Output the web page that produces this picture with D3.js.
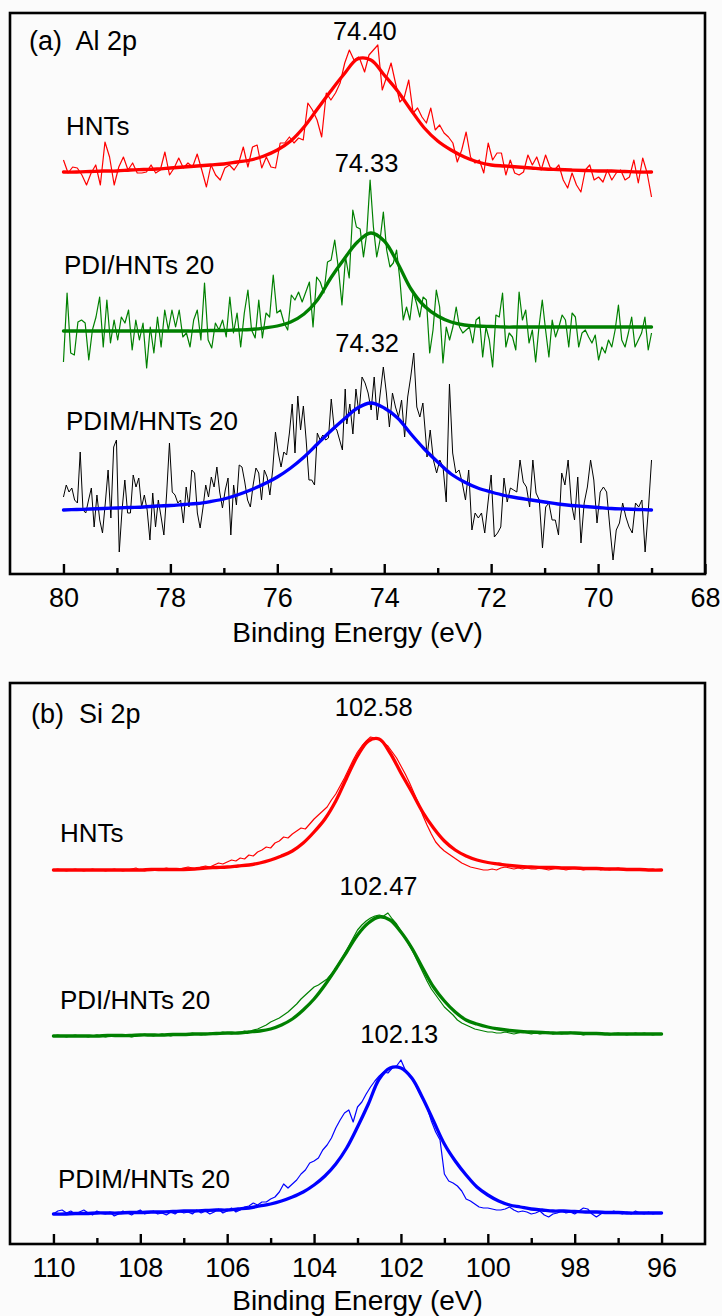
<!DOCTYPE html>
<html>
<head>
<meta charset="utf-8">
<script src="https://cdn.jsdelivr.net/npm/d3@7/dist/d3.min.js"></script>
<style>
  html, body { margin: 0; padding: 0; background: #fbfbfb; }
  svg { display: block; }
  text { font-family: "Liberation Sans", Arial, sans-serif; fill: #000; white-space: pre; }
</style>
</head>
<body>
<svg id="chart" width="722" height="1316"></svg>
<script>
// ---------------- DATA ----------------
// Panel (a) Al 2p
const aTitle = "(a)  Al 2p";
const aSeriesNames = ["HNTs", "PDI/HNTs 20", "PDIM/HNTs 20"];
const aPeakLabels = ["74.40", "74.33", "74.32"];
const aPeakEnergies = [74.40, 74.33, 74.32];
const aTicksMajor = [80, 78, 76, 74, 72, 70, 68];
const aTicksMinor = [79, 77, 75, 73, 71, 69];
const aDomain = [81, 68];

// raw spectra (intensity, a.u., stacked), segments given with their energy spans
const aRawHNTsLeft = [414,401,407,406,399,389,401,409,389,432,417,389,407,417,404,411,401,401,402,409,
  401,404,422,399,406,416,406,411,407,420,404,387,409,399,394,406,409,404,411,427,
  407,427,429,406,417,407,406,431,431,437,431,436,434,471,464,454,437,481,474,481,
  491,511,524,514,517]; // 80.0 -> 74.48 eV
const aRawHNTsRight = [514,502,519,524,529,484,497,511,491,472,477,494,461,466,457,451,466,444,449,441,
  437,431,412,424,442,417,411,414,401,431,414,421,421,399,414,401,399,402,419,409,
  417,404,419,407,404,409,394,386,401,389,382,404,409,394,397,392,404,394,401,404,
  394,397,414,391,416,401,377]; // 74.45 -> 69.0 eV
const aRawPDILeft = [212,281,221,219,252,254,251,214,244,257,277,227,274,231,254,234,257,251,264,224,
  254,234,251,206,247,221,257,227,264,244,264,247,264,237,241,227,254,264,234,291,
  234,226,251,244,254,237,277,241,261,227,261,284,244,236,274,236,261,257,299,261,
  264,251,244,279,274,282,272,282,292,247,297,292,281,312,314,334,306,269,317,296,
  364,347]; // 80.0 -> 74.52 eV
const aRawPDIRight = [345,317,341,394,347,317,334,362,324,307,311,324,294,254,267,254,282,271,257,277,
  274,221,244,284,267,211,247,234,247,267,247,241,244,247,231,254,257,217,247,234,
  207,259,257,281,227,241,237,224,282,254,264,231,244,212,247,274,244,217,254,237,
  247,259,254,227,261,257,227,241,244,237,231,239,214,227,221,234,227,244,269,234,
  227,241,257,227,234,241,257,224,241]; // 74.45 -> 69.0 eV
const aRawPDIM1 = [77,89,82,86,74,71,122,64,61,74,86,47,79,54,41,71,104,56,127,134,
  22,64,94,61,61,99,87,96,67,79,64,34,81,47,74,57,39,81,131,82,
  79,71,74,51,87,67,104,101,61,46,66,89,77,97,87,107,82,66,84,96,
  39,89,69,109,107,92,74,67,89,106,101,74,104,97,79,104,142,121,107,122,
  119,141,170,121,178,144,168,134,94,94,89,141,134,139,134,136,175,147,144,134,
  124,185]; // 80.0 -> 74.73 eV
const aRawPDIM2 = [150,170,140,185,160,197,191,181,164,197,154,181,207,181,147,181,167,157,174,137,
  177,197,221,167,157,171,134]; // 74.70 -> 73.22 eV
const aRawPDIM3 = [117,144,114,101,114,107,72,190,121,101,104,91,74,104,44,61,56,61,41,71,
  99,37,41,47,96,72,86,84,82,114,92,87,67,114,81,74,26,67,71,54,
  54,39,101,89,114,71,54,97,31,71,87,114,94,51,82,87,82,47,14,44,
  51,71,57,47,41,71,67,74,22,64,114]; // 73.2 -> 69.0 eV

// fitted curves, sampled every 0.25 eV from 80 to 69 eV
const aFitHNTs = [402,402,402.5,403,403,404,404.5,405,406,407,
  408,409,410,412,414,418,424,433,447,465,
  483,500,515,514,499,483,464,446,433,424,
  417,412,409,408,407,406,405,404.5,404,403.5,
  403,403,402.5,402,402];
const aFitPDI = [243,243,243,243,243,243,243,243,243,243,
  243,243.5,243.5,244,244.5,246,248,252,260,274,
  296,315,332,341,333,311,285,268,258,252,
  249,248,247.5,247,247,247,247,247,247,247,
  247,247,247,247,247];
const aFitPDIM = [64,64.5,65,65.5,66,66.5,67,68,68.5,69.5,
  70.5,72.5,75,79,84,90,97,106,117,130,
  143,155,166,171,166,156,140,125,112,100,
  92,86,82,78.5,76,74,72,70,68.5,67.5,
  66.5,65.5,65,64.5,64];

// Panel (b) Si 2p
const bTitle = "(b)  Si 2p";
const bSeriesNames = ["HNTs", "PDI/HNTs 20", "PDIM/HNTs 20"];
const bPeakLabels = ["102.58", "102.47", "102.13"];
const bPeakEnergies = [102.58, 102.47, 102.13];
const bTicksMajor = [110, 108, 106, 104, 102, 100, 98, 96];
const bTicksMinor = [109, 107, 105, 103, 101, 99, 97];
const bDomain = [111, 95];

// raw spectra sampled every 0.1 eV from 110 to 96 eV
const bRawHNTs = [374,375,374,373,374,375,374,373,374,375,374,374,373,374,375,374,373,374,375,376,
  374,373,374,375,374,375,376,375,374,375,376,377,376,375,377,378,377,
  379,381,380,382,384,383,386,385,389,388,392,394,397,396,401,403,407,406,410,413,
  416,415,420,425,429,433,437,444,450,458,466,475,484,492,498,503,507,506,504,501,
  498,492,486,478,470,461,451,441,429,419,410,402,397,393,390,387,384,381,379,377,
  376,375,374,374,375,374,376,377,376,375,376,375,376,375,
  375,376,375,374,375,376,375,374,375,376,375,374,375,375,376,374,375,374,375,376,
  375,374,375,374,375,374,374,375,374,374];
const bRawPDI = [208,209,208,207,208,209,208,208,207,208,209,208,207,208,209,208,209,208,207,208,
  209,210,209,208,209,210,209,208,209,210,209,210,211,210,209,210,211,210,211,212,
  211,210,211,212,213,212,
  214,215,217,219,222,224,226,229,232,236,240,245,249,253,257,259,262,265,270,276,
  283,290,298,306,314,319,323,326,328,329,328,331,325,320,313,306,298,290,281,272,
  263,255,249,243,237,233,229,224,221,219,217,215,214,213,212,212,211,
  211,212,211,210,211,212,211,210,211,210,211,212,210,211,210,211,212,211,210,209,
  210,211,210,211,210,209,210,211,210,209,210,211,210,211,210,209,210,210];
const bRawPDIM = [30,33,34,31,33,30,32,34,31,29,33,31,30,32,28,30,33,31,29,32,
  34,30,31,33,30,31,29,32,30,33,31,32,30,34,31,33,30,32,35,31,
  33,36,32,34,37,
  38,41,39,42,42,45,47,52,60,56,60,64,70,74,81,83,86,94,99,106,
  116,124,131,134,122,137,142,150,157,163,168,172,171,176,178,184,174,168,162,153,
  145,137,123,112,104,70,63,61,58,53,45,43,40,37,36,36,35,34,34,35,
  37,34,32,33,32,30,31,33,29,27,30,31,33,31,32,30,33,36,35,30,
  27,30,32,31,33,31,30,32,30,33,31,30,32,30,31,31];

// fitted curves, sampled every 0.25 eV from 110 to 96 eV
const bFitHNTs = [374,374,374,374,374,374,374,374,374,374.5,
  374.5,374.5,374.5,375,376,376.5,377,378,379,381,
  384,388,393,401,412,425,443,466,488,503,
  505,491,471,452,432,416,403,394,388,384,
  381.5,380,378.5,377.5,377,376.5,376.5,376,376,375.5,
  375.5,375,375,374.5,374.5,374,374];
const bFitPDI = [208,208,208,208,208,208.5,208.5,208.5,209,209,
  209,209.5,209.5,210,210,210.5,211,211,212,213,
  215,219,225,234,245,259,275,292,309,321,
  327,324,312,296,276,257,243,232,224,220,
  217,215,213.5,212.5,212,211.5,211,211,211,210.5,
  210.5,210,210,210,210,210,210];
const bFitPDIM = [30,30,30.5,30.5,31,31,31,31.5,31.5,32,
  32,32.5,33,33,33.5,34,34,35,36,38,
  40,43,47,52,59,68,80,96,117,140,
  165,176,176,166,146,123,100,83,69,57,
  49,43,39,37,35,34,33,33,32.5,32,
  32,31.5,31.5,31,31,31,31];

const axisTitle = "Binding Energy (eV)";

// ---------------- HELPERS ----------------
function spread(vals, e0, e1) {
  const n = vals.length;
  return vals.map((v, i) => ({ e: e0 + (e1 - e0) * i / (n - 1), v }));
}

const FONT = '"Liberation Sans", Arial, sans-serif';
const svg = d3.select("#chart");
svg.append("rect").attr("width", 722).attr("height", 1316).attr("fill", "#fbfbfb");

function drawPanel(cfg) {
  const { left, right, top, bottom } = cfg.box;
  const x = d3.scaleLinear().domain(cfg.domain).range([left, right]);
  const y = d3.scaleLinear().domain([0, bottom - top]).range([bottom, top]);
  const g = svg.append("g");

  const rawLine = d3.line().x(d => x(d.e)).y(d => y(d.v)).curve(d3.curveLinear);
  const fitLine = d3.line().x(d => x(d.e)).y(d => y(d.v)).curve(d3.curveCatmullRom.alpha(0.5));

  cfg.series.forEach(s => {
    const joined = [].concat(...s.raw);
    g.append("path").datum(joined).attr("d", rawLine)
      .attr("fill", "none").attr("stroke", s.rawColor).attr("stroke-width", s.rawWidth)
      .attr("stroke-linejoin", "round");
    g.append("path").datum(s.fit).attr("d", fitLine)
      .attr("fill", "none").attr("stroke", s.fitColor).attr("stroke-width", 3.3)
      .attr("stroke-linejoin", "round").attr("stroke-linecap", "round");
  });

  // frame
  g.append("rect").attr("x", left).attr("y", top)
    .attr("width", right - left).attr("height", bottom - top)
    .attr("fill", "none").attr("stroke", "#000").attr("stroke-width", 2.6);

  // axes
  const ax = g.append("g").attr("transform", `translate(0,${bottom})`)
    .call(d3.axisBottom(x).tickValues(cfg.major).tickSize(-10).tickPadding(14).tickFormat(d3.format("d")));
  ax.select(".domain").remove();
  ax.selectAll(".tick line").attr("stroke", "#000").attr("stroke-width", 2.4);
  ax.selectAll(".tick text").attr("font-size", 27).attr("font-family", FONT).attr("fill", "#000");
  const axm = g.append("g").attr("transform", `translate(0,${bottom})`)
    .call(d3.axisBottom(x).tickValues(cfg.minor).tickSize(-6).tickFormat(() => ""));
  axm.select(".domain").remove();
  axm.selectAll(".tick line").attr("stroke", "#000").attr("stroke-width", 2.4);

  g.append("text").attr("x", (left + right) / 2).attr("y", bottom + cfg.titleDy)
    .attr("text-anchor", "middle").attr("font-size", 28).text(axisTitle);

  g.append("text").attr("x", cfg.titlePos[0]).attr("y", cfg.titlePos[1])
    .attr("xml:space", "preserve")
    .attr("font-size", 27).text(cfg.title);

  cfg.series.forEach(s => {
    g.append("text").attr("x", s.namePos[0]).attr("y", s.namePos[1])
      .attr("font-size", 26).text(s.name);
    g.append("text").attr("x", x(s.peakE) + s.peakDx).attr("y", s.peakY)
      .attr("text-anchor", "middle").attr("font-size", 25.5).text(s.peakLabel);
  });
}

// ---------------- PANEL A ----------------
drawPanel({
  box: { left: 10, right: 705, top: 13, bottom: 574 },
  domain: aDomain, major: aTicksMajor, minor: aTicksMinor, titleDy: 68,
  title: aTitle, titlePos: [29, 50],
  series: [
    { name: aSeriesNames[0], namePos: [66, 135], peakLabel: aPeakLabels[0], peakE: aPeakEnergies[0], peakDx: 2, peakY: 40,
      raw: [spread(aRawHNTsLeft, 80, 74.48), spread(aRawHNTsRight, 74.45, 69)],
      rawColor: "#ff0000", rawWidth: 1.2, fitColor: "#ff0000", fit: spread(aFitHNTs, 80, 69) },
    { name: aSeriesNames[1], namePos: [64, 274], peakLabel: aPeakLabels[1], peakE: aPeakEnergies[1], peakDx: 0, peakY: 172,
      raw: [spread(aRawPDILeft, 80, 74.52), spread(aRawPDIRight, 74.45, 69)],
      rawColor: "#008000", rawWidth: 1.2, fitColor: "#008000", fit: spread(aFitPDI, 80, 69) },
    { name: aSeriesNames[2], namePos: [66, 430], peakLabel: aPeakLabels[2], peakE: aPeakEnergies[2], peakDx: 0, peakY: 352,
      raw: [spread(aRawPDIM1, 80, 74.73), spread(aRawPDIM2, 74.70, 73.22), spread(aRawPDIM3, 73.2, 69)],
      rawColor: "#000000", rawWidth: 1.0, fitColor: "#0000ff", fit: spread(aFitPDIM, 80, 69) }
  ]
});

// ---------------- PANEL B ----------------
drawPanel({
  box: { left: 10, right: 705, top: 683, bottom: 1244 },
  domain: bDomain, major: bTicksMajor, minor: bTicksMinor, titleDy: 66,
  title: bTitle, titlePos: [31, 723],
  series: [
    { name: bSeriesNames[0], namePos: [60, 842], peakLabel: bPeakLabels[0], peakE: bPeakEnergies[0], peakDx: -2, peakY: 716,
      raw: [spread(bRawHNTs, 110, 96)],
      rawColor: "#ff0000", rawWidth: 1.2, fitColor: "#ff0000", fit: spread(bFitHNTs, 110, 96) },
    { name: bSeriesNames[1], namePos: [60, 1009], peakLabel: bPeakLabels[1], peakE: bPeakEnergies[1], peakDx: -2, peakY: 895,
      raw: [spread(bRawPDI, 110, 96)],
      rawColor: "#008000", rawWidth: 1.2, fitColor: "#008000", fit: spread(bFitPDI, 110, 96) },
    { name: bSeriesNames[2], namePos: [58, 1188], peakLabel: bPeakLabels[2], peakE: bPeakEnergies[2], peakDx: 4, peakY: 1043,
      raw: [spread(bRawPDIM, 110, 96)],
      rawColor: "#0000ff", rawWidth: 1.2, fitColor: "#0000ff", fit: spread(bFitPDIM, 110, 96) }
  ]
});
</script>
</body>
</html>
